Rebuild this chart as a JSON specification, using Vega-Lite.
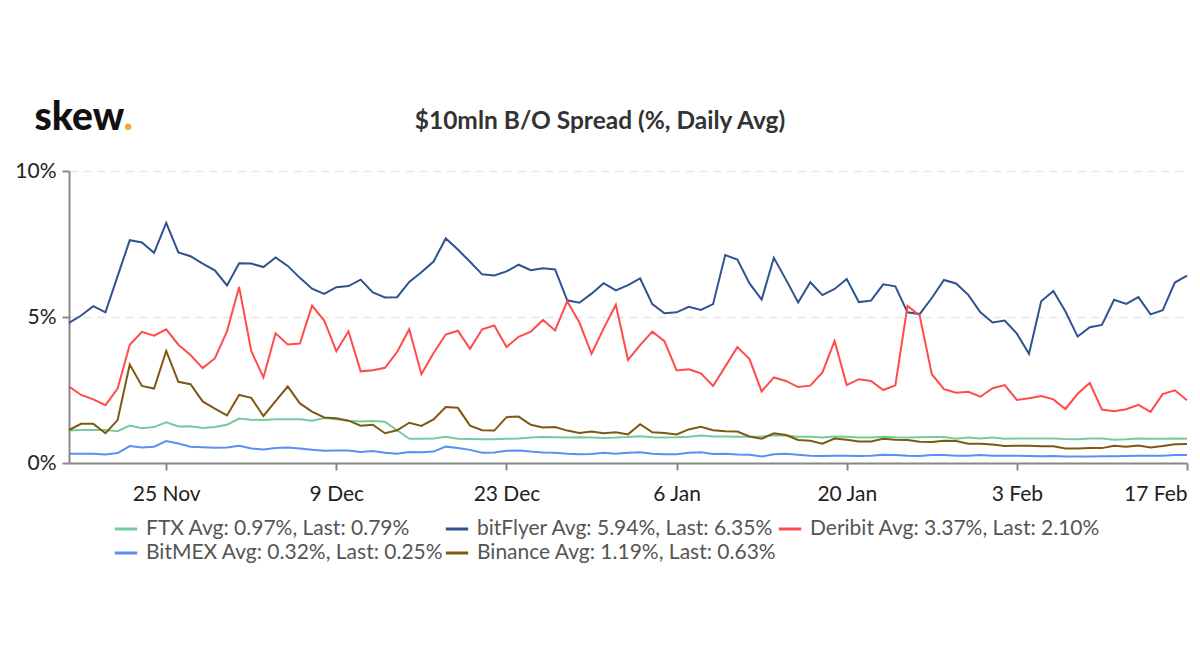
{
  "$schema": "https://vega.github.io/schema/vega-lite/v6.json",
  "width": 1118,
  "height": 292,
  "autosize": {"type": "none"},
  "padding": {"left": 69, "top": 171, "right": 13, "bottom": 207},
  "background": "white",
  "config": {"view": {"stroke": null}, "font": "Lato"},
  "title": {
    "text": "$10mln B/O Spread (%, Daily Avg)",
    "anchor": "middle",
    "dx": -28,
    "offset": -36,
    "font": "Lato",
    "fontSize": 24.5,
    "fontWeight": "bold",
    "color": "#333333"
  },
  "data": {
    "values": [
      {"date": "2020-11-17", "FTX": 1.11, "bitFlyer": 4.80, "Deribit": 2.62, "BitMEX": 0.32, "Binance": 1.13},
      {"date": "2020-11-18", "FTX": 1.13, "bitFlyer": 5.05, "Deribit": 2.33, "BitMEX": 0.32, "Binance": 1.34},
      {"date": "2020-11-19", "FTX": 1.13, "bitFlyer": 5.37, "Deribit": 2.18, "BitMEX": 0.32, "Binance": 1.34},
      {"date": "2020-11-20", "FTX": 1.13, "bitFlyer": 5.16, "Deribit": 1.98, "BitMEX": 0.29, "Binance": 1.02},
      {"date": "2020-11-21", "FTX": 1.09, "bitFlyer": 6.40, "Deribit": 2.55, "BitMEX": 0.34, "Binance": 1.47},
      {"date": "2020-11-22", "FTX": 1.28, "bitFlyer": 7.63, "Deribit": 4.05, "BitMEX": 0.58, "Binance": 3.37},
      {"date": "2020-11-23", "FTX": 1.19, "bitFlyer": 7.55, "Deribit": 4.49, "BitMEX": 0.53, "Binance": 2.64},
      {"date": "2020-11-24", "FTX": 1.23, "bitFlyer": 7.20, "Deribit": 4.36, "BitMEX": 0.56, "Binance": 2.55},
      {"date": "2020-11-25", "FTX": 1.39, "bitFlyer": 8.22, "Deribit": 4.58, "BitMEX": 0.75, "Binance": 3.84},
      {"date": "2020-11-26", "FTX": 1.25, "bitFlyer": 7.21, "Deribit": 4.05, "BitMEX": 0.67, "Binance": 2.78},
      {"date": "2020-11-27", "FTX": 1.26, "bitFlyer": 7.08, "Deribit": 3.70, "BitMEX": 0.56, "Binance": 2.70},
      {"date": "2020-11-28", "FTX": 1.20, "bitFlyer": 6.83, "Deribit": 3.25, "BitMEX": 0.54, "Binance": 2.11},
      {"date": "2020-11-29", "FTX": 1.23, "bitFlyer": 6.60, "Deribit": 3.58, "BitMEX": 0.52, "Binance": 1.86},
      {"date": "2020-11-30", "FTX": 1.31, "bitFlyer": 6.08, "Deribit": 4.51, "BitMEX": 0.53, "Binance": 1.63},
      {"date": "2020-12-01", "FTX": 1.52, "bitFlyer": 6.84, "Deribit": 6.03, "BitMEX": 0.59, "Binance": 2.33},
      {"date": "2020-12-02", "FTX": 1.48, "bitFlyer": 6.83, "Deribit": 3.83, "BitMEX": 0.50, "Binance": 2.23},
      {"date": "2020-12-03", "FTX": 1.47, "bitFlyer": 6.71, "Deribit": 2.93, "BitMEX": 0.46, "Binance": 1.61},
      {"date": "2020-12-04", "FTX": 1.50, "bitFlyer": 7.04, "Deribit": 4.44, "BitMEX": 0.51, "Binance": 2.12},
      {"date": "2020-12-05", "FTX": 1.50, "bitFlyer": 6.75, "Deribit": 4.06, "BitMEX": 0.53, "Binance": 2.62},
      {"date": "2020-12-06", "FTX": 1.50, "bitFlyer": 6.34, "Deribit": 4.09, "BitMEX": 0.50, "Binance": 2.04},
      {"date": "2020-12-07", "FTX": 1.45, "bitFlyer": 5.97, "Deribit": 5.39, "BitMEX": 0.45, "Binance": 1.76},
      {"date": "2020-12-08", "FTX": 1.54, "bitFlyer": 5.79, "Deribit": 4.88, "BitMEX": 0.42, "Binance": 1.56},
      {"date": "2020-12-09", "FTX": 1.50, "bitFlyer": 6.02, "Deribit": 3.83, "BitMEX": 0.43, "Binance": 1.53},
      {"date": "2020-12-10", "FTX": 1.45, "bitFlyer": 6.06, "Deribit": 4.51, "BitMEX": 0.43, "Binance": 1.45},
      {"date": "2020-12-11", "FTX": 1.42, "bitFlyer": 6.28, "Deribit": 3.14, "BitMEX": 0.38, "Binance": 1.28},
      {"date": "2020-12-12", "FTX": 1.44, "bitFlyer": 5.84, "Deribit": 3.18, "BitMEX": 0.41, "Binance": 1.31},
      {"date": "2020-12-13", "FTX": 1.41, "bitFlyer": 5.67, "Deribit": 3.26, "BitMEX": 0.35, "Binance": 1.02},
      {"date": "2020-12-14", "FTX": 1.12, "bitFlyer": 5.68, "Deribit": 3.80, "BitMEX": 0.32, "Binance": 1.12},
      {"date": "2020-12-15", "FTX": 0.83, "bitFlyer": 6.20, "Deribit": 4.58, "BitMEX": 0.38, "Binance": 1.38},
      {"date": "2020-12-16", "FTX": 0.83, "bitFlyer": 6.53, "Deribit": 3.04, "BitMEX": 0.37, "Binance": 1.27},
      {"date": "2020-12-17", "FTX": 0.84, "bitFlyer": 6.90, "Deribit": 3.77, "BitMEX": 0.39, "Binance": 1.49},
      {"date": "2020-12-18", "FTX": 0.90, "bitFlyer": 7.69, "Deribit": 4.40, "BitMEX": 0.56, "Binance": 1.92},
      {"date": "2020-12-19", "FTX": 0.83, "bitFlyer": 7.31, "Deribit": 4.53, "BitMEX": 0.51, "Binance": 1.89},
      {"date": "2020-12-20", "FTX": 0.82, "bitFlyer": 6.89, "Deribit": 3.91, "BitMEX": 0.45, "Binance": 1.28},
      {"date": "2020-12-21", "FTX": 0.81, "bitFlyer": 6.46, "Deribit": 4.58, "BitMEX": 0.35, "Binance": 1.12},
      {"date": "2020-12-22", "FTX": 0.81, "bitFlyer": 6.42, "Deribit": 4.71, "BitMEX": 0.36, "Binance": 1.11},
      {"date": "2020-12-23", "FTX": 0.83, "bitFlyer": 6.56, "Deribit": 3.97, "BitMEX": 0.42, "Binance": 1.57},
      {"date": "2020-12-24", "FTX": 0.84, "bitFlyer": 6.79, "Deribit": 4.32, "BitMEX": 0.43, "Binance": 1.59},
      {"date": "2020-12-25", "FTX": 0.87, "bitFlyer": 6.60, "Deribit": 4.50, "BitMEX": 0.39, "Binance": 1.31},
      {"date": "2020-12-26", "FTX": 0.89, "bitFlyer": 6.67, "Deribit": 4.90, "BitMEX": 0.36, "Binance": 1.22},
      {"date": "2020-12-27", "FTX": 0.88, "bitFlyer": 6.63, "Deribit": 4.54, "BitMEX": 0.35, "Binance": 1.23},
      {"date": "2020-12-28", "FTX": 0.87, "bitFlyer": 5.57, "Deribit": 5.54, "BitMEX": 0.32, "Binance": 1.11},
      {"date": "2020-12-29", "FTX": 0.88, "bitFlyer": 5.49, "Deribit": 4.81, "BitMEX": 0.30, "Binance": 1.03},
      {"date": "2020-12-30", "FTX": 0.87, "bitFlyer": 5.80, "Deribit": 3.74, "BitMEX": 0.31, "Binance": 1.08},
      {"date": "2020-12-31", "FTX": 0.86, "bitFlyer": 6.16, "Deribit": 4.61, "BitMEX": 0.35, "Binance": 1.02},
      {"date": "2021-01-01", "FTX": 0.87, "bitFlyer": 5.91, "Deribit": 5.42, "BitMEX": 0.32, "Binance": 1.05},
      {"date": "2021-01-02", "FTX": 0.89, "bitFlyer": 6.09, "Deribit": 3.53, "BitMEX": 0.35, "Binance": 0.98},
      {"date": "2021-01-03", "FTX": 0.92, "bitFlyer": 6.32, "Deribit": 4.04, "BitMEX": 0.37, "Binance": 1.33},
      {"date": "2021-01-04", "FTX": 0.88, "bitFlyer": 5.44, "Deribit": 4.50, "BitMEX": 0.32, "Binance": 1.05},
      {"date": "2021-01-05", "FTX": 0.87, "bitFlyer": 5.13, "Deribit": 4.17, "BitMEX": 0.30, "Binance": 1.03},
      {"date": "2021-01-06", "FTX": 0.88, "bitFlyer": 5.16, "Deribit": 3.17, "BitMEX": 0.30, "Binance": 0.98},
      {"date": "2021-01-07", "FTX": 0.90, "bitFlyer": 5.35, "Deribit": 3.21, "BitMEX": 0.35, "Binance": 1.15},
      {"date": "2021-01-08", "FTX": 0.94, "bitFlyer": 5.24, "Deribit": 3.07, "BitMEX": 0.37, "Binance": 1.24},
      {"date": "2021-01-09", "FTX": 0.91, "bitFlyer": 5.44, "Deribit": 2.64, "BitMEX": 0.31, "Binance": 1.12},
      {"date": "2021-01-10", "FTX": 0.91, "bitFlyer": 7.12, "Deribit": 3.30, "BitMEX": 0.32, "Binance": 1.09},
      {"date": "2021-01-11", "FTX": 0.90, "bitFlyer": 6.97, "Deribit": 3.97, "BitMEX": 0.29, "Binance": 1.08},
      {"date": "2021-01-12", "FTX": 0.90, "bitFlyer": 6.15, "Deribit": 3.56, "BitMEX": 0.28, "Binance": 0.91},
      {"date": "2021-01-13", "FTX": 0.91, "bitFlyer": 5.60, "Deribit": 2.45, "BitMEX": 0.22, "Binance": 0.83},
      {"date": "2021-01-14", "FTX": 0.95, "bitFlyer": 7.03, "Deribit": 2.93, "BitMEX": 0.30, "Binance": 1.02},
      {"date": "2021-01-15", "FTX": 0.94, "bitFlyer": 6.28, "Deribit": 2.81, "BitMEX": 0.32, "Binance": 0.96},
      {"date": "2021-01-16", "FTX": 0.90, "bitFlyer": 5.50, "Deribit": 2.60, "BitMEX": 0.28, "Binance": 0.79},
      {"date": "2021-01-17", "FTX": 0.90, "bitFlyer": 6.19, "Deribit": 2.65, "BitMEX": 0.25, "Binance": 0.76},
      {"date": "2021-01-18", "FTX": 0.87, "bitFlyer": 5.75, "Deribit": 3.10, "BitMEX": 0.24, "Binance": 0.66},
      {"date": "2021-01-19", "FTX": 0.91, "bitFlyer": 5.96, "Deribit": 4.18, "BitMEX": 0.25, "Binance": 0.84},
      {"date": "2021-01-20", "FTX": 0.90, "bitFlyer": 6.30, "Deribit": 2.67, "BitMEX": 0.25, "Binance": 0.80},
      {"date": "2021-01-21", "FTX": 0.87, "bitFlyer": 5.51, "Deribit": 2.87, "BitMEX": 0.24, "Binance": 0.74},
      {"date": "2021-01-22", "FTX": 0.87, "bitFlyer": 5.56, "Deribit": 2.81, "BitMEX": 0.25, "Binance": 0.74},
      {"date": "2021-01-23", "FTX": 0.90, "bitFlyer": 6.12, "Deribit": 2.50, "BitMEX": 0.28, "Binance": 0.83},
      {"date": "2021-01-24", "FTX": 0.88, "bitFlyer": 6.05, "Deribit": 2.66, "BitMEX": 0.27, "Binance": 0.80},
      {"date": "2021-01-25", "FTX": 0.87, "bitFlyer": 5.16, "Deribit": 5.38, "BitMEX": 0.25, "Binance": 0.79},
      {"date": "2021-01-26", "FTX": 0.88, "bitFlyer": 5.10, "Deribit": 5.05, "BitMEX": 0.24, "Binance": 0.73},
      {"date": "2021-01-27", "FTX": 0.89, "bitFlyer": 5.65, "Deribit": 3.04, "BitMEX": 0.27, "Binance": 0.72},
      {"date": "2021-01-28", "FTX": 0.89, "bitFlyer": 6.27, "Deribit": 2.53, "BitMEX": 0.27, "Binance": 0.76},
      {"date": "2021-01-29", "FTX": 0.83, "bitFlyer": 6.15, "Deribit": 2.41, "BitMEX": 0.25, "Binance": 0.75},
      {"date": "2021-01-30", "FTX": 0.87, "bitFlyer": 5.76, "Deribit": 2.44, "BitMEX": 0.25, "Binance": 0.66},
      {"date": "2021-01-31", "FTX": 0.84, "bitFlyer": 5.16, "Deribit": 2.27, "BitMEX": 0.27, "Binance": 0.66},
      {"date": "2021-02-01", "FTX": 0.87, "bitFlyer": 4.81, "Deribit": 2.56, "BitMEX": 0.25, "Binance": 0.63},
      {"date": "2021-02-02", "FTX": 0.83, "bitFlyer": 4.88, "Deribit": 2.67, "BitMEX": 0.25, "Binance": 0.58},
      {"date": "2021-02-03", "FTX": 0.84, "bitFlyer": 4.43, "Deribit": 2.16, "BitMEX": 0.25, "Binance": 0.59},
      {"date": "2021-02-04", "FTX": 0.84, "bitFlyer": 3.74, "Deribit": 2.22, "BitMEX": 0.24, "Binance": 0.59},
      {"date": "2021-02-05", "FTX": 0.84, "bitFlyer": 5.54, "Deribit": 2.29, "BitMEX": 0.23, "Binance": 0.57},
      {"date": "2021-02-06", "FTX": 0.84, "bitFlyer": 5.89, "Deribit": 2.18, "BitMEX": 0.24, "Binance": 0.57},
      {"date": "2021-02-07", "FTX": 0.82, "bitFlyer": 5.19, "Deribit": 1.85, "BitMEX": 0.22, "Binance": 0.50},
      {"date": "2021-02-08", "FTX": 0.81, "bitFlyer": 4.33, "Deribit": 2.37, "BitMEX": 0.22, "Binance": 0.50},
      {"date": "2021-02-09", "FTX": 0.84, "bitFlyer": 4.65, "Deribit": 2.74, "BitMEX": 0.22, "Binance": 0.51},
      {"date": "2021-02-10", "FTX": 0.84, "bitFlyer": 4.73, "Deribit": 1.83, "BitMEX": 0.23, "Binance": 0.51},
      {"date": "2021-02-11", "FTX": 0.80, "bitFlyer": 5.59, "Deribit": 1.77, "BitMEX": 0.23, "Binance": 0.59},
      {"date": "2021-02-12", "FTX": 0.81, "bitFlyer": 5.45, "Deribit": 1.84, "BitMEX": 0.24, "Binance": 0.56},
      {"date": "2021-02-13", "FTX": 0.84, "bitFlyer": 5.68, "Deribit": 1.99, "BitMEX": 0.25, "Binance": 0.60},
      {"date": "2021-02-14", "FTX": 0.83, "bitFlyer": 5.09, "Deribit": 1.75, "BitMEX": 0.25, "Binance": 0.53},
      {"date": "2021-02-15", "FTX": 0.83, "bitFlyer": 5.23, "Deribit": 2.36, "BitMEX": 0.25, "Binance": 0.58},
      {"date": "2021-02-16", "FTX": 0.84, "bitFlyer": 6.18, "Deribit": 2.49, "BitMEX": 0.27, "Binance": 0.64},
      {"date": "2021-02-17", "FTX": 0.83, "bitFlyer": 6.42, "Deribit": 2.15, "BitMEX": 0.27, "Binance": 0.65}
    ]
  },
  "transform": [
    {"fold": ["FTX", "bitFlyer", "Deribit", "BitMEX", "Binance"], "as": ["exchange", "spread"]}
  ],
  "mark": {"type": "line", "strokeWidth": 2, "interpolate": "linear"},
  "encoding": {
    "x": {
      "field": "date",
      "type": "temporal",
      "scale": {
        "type": "utc",
        "nice": false,
        "domain": [
          {"year": 2020, "month": 11, "date": 17, "utc": true},
          {"year": 2021, "month": 2, "date": 17, "utc": true}
        ]
      },
      "axis": {
        "values": [
          {"year": 2020, "month": 11, "date": 25, "utc": true},
          {"year": 2020, "month": 12, "date": 9, "utc": true},
          {"year": 2020, "month": 12, "date": 23, "utc": true},
          {"year": 2021, "month": 1, "date": 6, "utc": true},
          {"year": 2021, "month": 1, "date": 20, "utc": true},
          {"year": 2021, "month": 2, "date": 3, "utc": true},
          {"year": 2021, "month": 2, "date": 17, "utc": true}
        ],
        "format": "%-d %b",
        "grid": false,
        "domainColor": "#888888",
        "domainWidth": 2,
        "tickColor": "#888888",
        "tickWidth": 2,
        "tickSize": 7,
        "labelFont": "Lato",
        "labelFontSize": 21,
        "labelColor": "#222222",
        "labelPadding": 13,
        "labelFlush": true,
        "labelOverlap": false,
        "title": ".",
        "titleFont": "Lato",
        "titleFontSize": 39,
        "titleFontWeight": 900,
        "titleColor": "#F0A830",
        "titleAngle": 0,
        "titleAlign": "left",
        "titleBaseline": "alphabetic",
        "titleX": 54,
        "titleY": -334
      }
    },
    "y": {
      "field": "spread",
      "type": "quantitative",
      "scale": {"domain": [0, 10], "nice": false, "zero": true},
      "axis": {
        "values": [0, 5, 10],
        "labelExpr": "datum.value + '%'",
        "grid": true,
        "gridColor": "#E6E6E6",
        "gridDash": [8, 6],
        "gridWidth": 1.5,
        "domainColor": "#888888",
        "domainWidth": 2,
        "tickColor": "#888888",
        "tickWidth": 2,
        "tickSize": 7,
        "labelFont": "Lato",
        "labelFontSize": 21,
        "labelColor": "#222222",
        "labelPadding": 6,
        "title": "skew",
        "titleFont": "Lato",
        "titleFontSize": 39,
        "titleFontWeight": 900,
        "titleColor": "#111111",
        "titleAngle": 0,
        "titleAlign": "left",
        "titleBaseline": "alphabetic",
        "titleX": -35,
        "titleY": -42
      }
    },
    "color": {
      "field": "exchange",
      "type": "nominal",
      "scale": {
        "domain": ["FTX", "bitFlyer", "Deribit", "BitMEX", "Binance"],
        "range": ["#76CB9E", "#2F5290", "#FF4B4B", "#5B8FF2", "#7F5812"]
      },
      "legend": {
        "orient": "none",
        "legendX": 44,
        "legendY": 345,
        "direction": "horizontal",
        "columns": 3,
        "title": null,
        "symbolType": "stroke",
        "symbolSize": 500,
        "symbolStrokeWidth": 3,
        "labelFont": "Lato",
        "labelFontSize": 21,
        "labelColor": "#555555",
        "labelLimit": 500,
        "labelOffset": 7,
        "columnPadding": -10,
        "rowPadding": 1,
        "labelExpr": "datum.label == 'FTX' ? 'FTX Avg: 0.97%, Last: 0.79%' : datum.label == 'bitFlyer' ? 'bitFlyer Avg: 5.94%, Last: 6.35%' : datum.label == 'Deribit' ? 'Deribit Avg: 3.37%, Last: 2.10%' : datum.label == 'BitMEX' ? 'BitMEX Avg: 0.32%, Last: 0.25%' : 'Binance Avg: 1.19%, Last: 0.63%'"
      }
    }
  }
}
